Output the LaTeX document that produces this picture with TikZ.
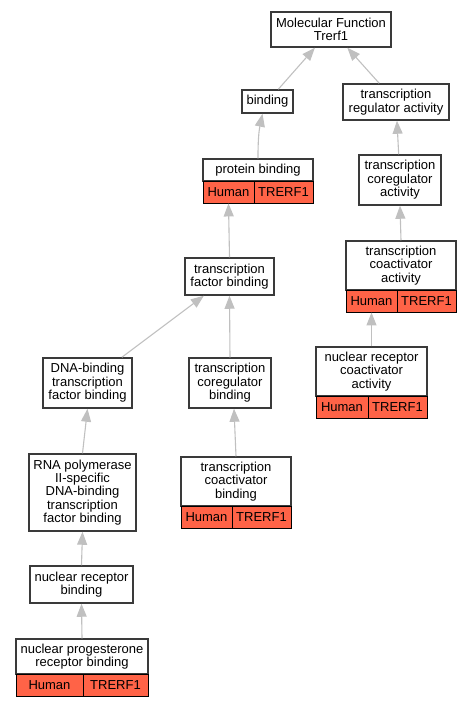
\documentclass[tikz,border=0pt]{standalone}
\usepackage{fontspec}
\setmainfont{Liberation Sans}
\usetikzlibrary{arrows.meta}
\definecolor{annored}{HTML}{FF6347}
\definecolor{edgegray}{HTML}{C0C0C0}
\definecolor{boxline}{HTML}{3A3A3A}

\begin{document}
\begin{tikzpicture}[x=1pt, y=-1pt]
            % Base settings
            \tikzset{
              goterm/.style={draw=boxline, line width=1.5pt, fill=white, align=center,
                inner sep=0pt, font=\fontsize{13}{13.4}\selectfont},
              annocell/.style={draw=black, line width=0.9pt, fill=annored, inner sep=0pt,
                minimum height=22, font=\fontsize{13}{13.4}\selectfont},
              isa/.style={draw=edgegray, line width=1.1pt, -{Triangle[length=13pt, width=10pt]}}
            }
            \useasboundingbox (0,0) rectangle (472,707);

            % --- Terms ---
            \node[goterm, minimum width=120, minimum height=35] (mf) at (331,29.5) {Molecular Function\\Trerf1};
            \node[goterm, minimum width=51, minimum height=23] (bind) at (267.5,101.5) {binding};
            \node[goterm, minimum width=106, minimum height=36] (treg) at (396,102) {transcription\\regulator activity};
            \node[goterm, minimum width=110, minimum height=22] (pbind) at (258,170) {protein binding};
            \node[goterm, minimum width=82, minimum height=50] (tcorega) at (400,180) {transcription\\coregulator\\activity};
            \node[goterm, minimum width=89, minimum height=37] (tfb) at (229.5,276.5) {transcription\\factor binding};
            \node[goterm, minimum width=110, minimum height=49] (tcoacta) at (401,265.5) {transcription\\coactivator\\activity};
            \node[goterm, minimum width=111, minimum height=49] (nrca) at (371.5,371.5) {nuclear receptor\\coactivator\\activity};
            \node[goterm, minimum width=89, minimum height=50] (dnatfb) at (87.5,383) {DNA-binding\\transcription\\factor binding};
            \node[goterm, minimum width=82, minimum height=50] (tcoregb) at (230,383) {transcription\\coregulator\\binding};
            \node[goterm, minimum width=107, minimum height=77] (rnapol) at (82.5,492.5) {RNA polymerase\\II-specific\\DNA-binding\\transcription\\factor binding};
            \node[goterm, minimum width=110, minimum height=49] (tcoactb) at (236,481.5) {transcription\\coactivator\\binding};
            \node[goterm, minimum width=103, minimum height=37] (nrb) at (81.5,584.5) {nuclear receptor\\binding};
            \node[goterm, minimum width=132, minimum height=35] (nprb) at (82,656.5) {nuclear progesterone\\receptor binding};

            % --- Annotations ---
            \node[annocell, minimum width=51] (pbindH) at (228.5,192) {Human};
            \node[annocell, minimum width=59] (pbindG) at (283.5,192) {TRERF1};
            \node[annocell, minimum width=51] (tcoactaH) at (371.5,301) {Human};
            \node[annocell, minimum width=59] (tcoactaG) at (426.5,301) {TRERF1};
            \node[annocell, minimum width=52] (nrcaH) at (342,407) {Human};
            \node[annocell, minimum width=59] (nrcaG) at (397.5,407) {TRERF1};
            \node[annocell, minimum width=51] (tcoactbH) at (206.5,517) {Human};
            \node[annocell, minimum width=59] (tcoactbG) at (261.5,517) {TRERF1};
            \node[annocell, minimum width=67] (nprbH) at (49.5,685) {Human};
            \node[annocell, minimum width=65] (nprbG) at (115.5,685) {TRERF1};

            % --- Edges ---
            \draw[isa] (bind) -- (mf);
            \draw[isa] (treg) -- (mf);
            \draw[isa] (pbind.north) to[bend left=6] ([xshift=-5]bind.south);
            \draw[isa] (tcorega) -- (treg);
            \draw[isa] (tfb.north) -- (pbindH.south);
            \draw[isa] (tcoacta.north) -- (tcorega.south);
            \draw[isa] (nrca.north) -- (tcoactaH.south);
            \draw[isa] (dnatfb) -- (tfb);
            \draw[isa] (tcoregb.north) -- (tfb.south);
            \draw[isa] (rnapol.north) -- (dnatfb.south);
            \draw[isa] (tcoactb.north) -- ([xshift=4]tcoregb.south);
            \draw[isa] (nrb.north) -- (rnapol.south);
            \draw[isa] (nprb.north) -- (nrb.south);

            \end{tikzpicture}
\end{document}
